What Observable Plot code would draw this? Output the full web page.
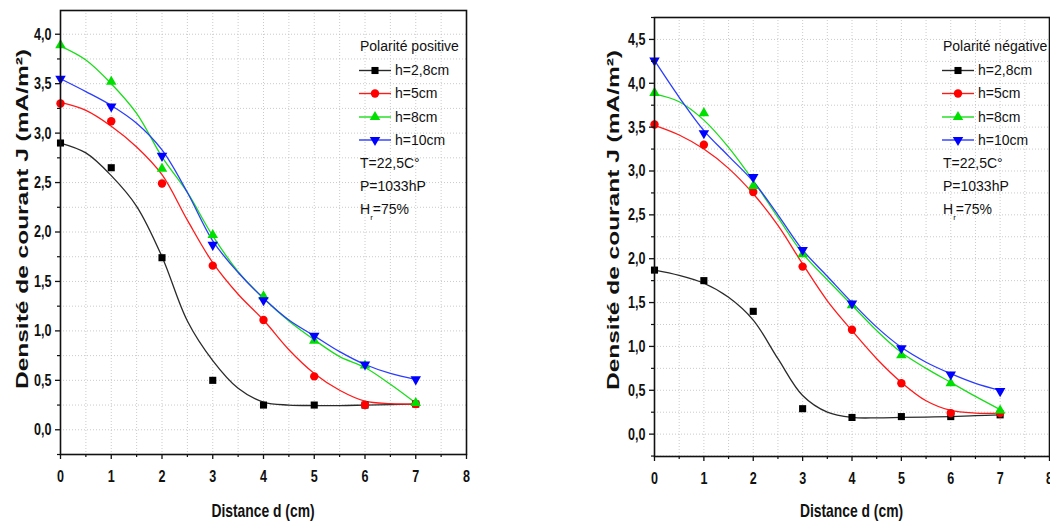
<!DOCTYPE html>
<html><head><meta charset="utf-8">
<script src="https://cdn.jsdelivr.net/npm/d3@7"></script>
<script src="https://cdn.jsdelivr.net/npm/@observablehq/plot@0.6"></script>
<style>
body{margin:0;background:#fff;}
#wrap{display:flex;width:1050px;height:523px;overflow:hidden;}
#wrap svg{flex:none;overflow:hidden;}
</style></head><body><div id="wrap"></div>
<script>
// ---------- data ----------
const distance = [0, 1, 2, 3, 4, 5, 6, 7];
const fitDistance = [0, 0.5, 1, 1.5, 2, 2.5, 3, 3.5, 4, 4.5, 5, 5.5, 6, 6.5, 7];
const seriesLabels = ["h=2,8cm", "h=5cm", "h=8cm", "h=10cm"];
const xTicks = [0, 1, 2, 3, 4, 5, 6, 7, 8];
const posYTicks = [0, 0.5, 1, 1.5, 2, 2.5, 3, 3.5, 4];
const negYTicks = [0, 0.5, 1, 1.5, 2, 2.5, 3, 3.5, 4, 4.5];
const conditions = ["T=22,5C°", "P=1033hP", "H|r|=75%"];

// Polarité positive (measured points)
const posH28 = [2.90, 2.65, 1.74, 0.50, 0.25, 0.25, 0.25, 0.26];
const posH5  = [3.30, 3.12, 2.49, 1.66, 1.11, 0.54, 0.25, 0.26];
const posH8  = [3.89, 3.52, 2.64, 1.97, 1.35, 0.90, 0.65, 0.27];
const posH10 = [3.55, 3.27, 2.77, 1.87, 1.31, 0.95, 0.66, 0.51];
// Polarité positive (fitted curves read at fitDistance)
const posFitH28 = [2.90, 2.80, 2.57, 2.26, 1.75, 1.10, 0.70, 0.42, 0.28, 0.25, 0.245, 0.245, 0.25, 0.255, 0.26];
const posFitH5  = [3.31, 3.23, 3.07, 2.86, 2.58, 2.12, 1.69, 1.37, 1.11, 0.81, 0.57, 0.40, 0.29, 0.265, 0.26];
const posFitH8  = [3.88, 3.74, 3.50, 3.20, 2.76, 2.40, 1.96, 1.60, 1.33, 1.10, 0.91, 0.74, 0.63, 0.46, 0.27];
const posFitH10 = [3.55, 3.42, 3.28, 3.10, 2.83, 2.40, 1.91, 1.59, 1.33, 1.11, 0.95, 0.79, 0.66, 0.57, 0.51];

// Polarité négative (measured points)
const negH28 = [1.87, 1.75, 1.40, 0.29, 0.19, 0.20, 0.20, 0.22];
const negH5  = [3.53, 3.30, 2.76, 1.91, 1.19, 0.58, 0.24, 0.24];
const negH8  = [3.89, 3.66, 2.83, 2.05, 1.47, 0.90, 0.58, 0.27];
const negH10 = [4.26, 3.43, 2.93, 2.10, 1.49, 0.98, 0.68, 0.49];
// Polarité négative (fitted curves)
const negFitH28 = [1.87, 1.81, 1.72, 1.56, 1.30, 0.86, 0.44, 0.25, 0.19, 0.185, 0.19, 0.195, 0.20, 0.21, 0.22];
const negFitH5  = [3.52, 3.41, 3.25, 3.03, 2.74, 2.38, 1.94, 1.52, 1.18, 0.86, 0.59, 0.38, 0.27, 0.24, 0.24];
const negFitH8  = [3.88, 3.79, 3.58, 3.27, 2.89, 2.47, 2.06, 1.76, 1.47, 1.18, 0.93, 0.75, 0.59, 0.43, 0.28];
const negFitH10 = [4.26, 3.84, 3.46, 3.17, 2.88, 2.50, 2.10, 1.80, 1.50, 1.22, 0.99, 0.82, 0.69, 0.58, 0.50];

// ---------- styles ----------
const markerColors = ["#000000", "#ff0000", "#00e000", "#0000ff"];
const lineColors = ["#2a2a2a", "#ff1a1a", "#1add1a", "#2a3cff"];
const sqrt3 = Math.sqrt(3);
const symbolTriangleDown = {
  draw(context, size) {
    const y = -Math.sqrt(size / (sqrt3 * 3));
    context.moveTo(0, -y * 2);
    context.lineTo(-sqrt3 * y, y);
    context.lineTo(sqrt3 * y, y);
    context.closePath();
  }
};
const symbols = [d3.symbolSquare, d3.symbolCircle, d3.symbolTriangle, symbolTriangleDown];
const radii = [4, 4.2, 3.9, 3.9];
const FONT = "'Liberation Sans', Arial, Helvetica, sans-serif";
const fmt = d => d.toFixed(1).replace(".", ",");

function range(a, b, step) { const out = []; for (let v = a; v <= b + 1e-9; v += step) out.push(+v.toFixed(4)); return out; }

// condense Plot's tick labels horizontally, keeping their anchor point
function squeezeTexts(svg, s) {
  const nodes = Array.from(svg.querySelectorAll("text"));
  nodes.forEach(node => {
    if (!node.textContent) return;
    const ns = "http://www.w3.org/2000/svg";
    const g = document.createElementNS(ns, "g");
    node.parentNode.insertBefore(g, node);
    g.appendChild(node);
    const b = g.getBBox();
    const anchor = getComputedStyle(node).textAnchor;
    const ax = anchor === "end" ? b.x + b.width : anchor === "start" ? b.x : b.x + b.width / 2;
    g.setAttribute("transform", `translate(${ax},0) scale(${s},1) translate(${-ax},0)`);
  });
}

function panel(cfg) {
  const {width, ml, mr, mt, mb, yDomain, yTicks, points, fits, title, yTitleDx, yTitleY} = cfg;
  const height = 523;
  const xGrid = range(0.5, 7.5, 0.5);
  const yGrid = range(-0.25, yDomain[1], 0.25).filter(v => v > yDomain[0] + 1e-6);
  const yMinor = range(-0.25, yDomain[1], 0.25).filter(v => !yTicks.includes(v) && v >= yDomain[0] - 1e-6);
  const xMinor = range(0.5, 7.5, 1);
  const gridStyle = {stroke: "#bcbcbc", strokeOpacity: 1, strokeWidth: 0.8, strokeDasharray: "1,2"};
  const marks = [
    Plot.gridX(xGrid, gridStyle),
    Plot.gridY(yGrid, gridStyle)
  ];
  fits.forEach((f, i) => marks.push(Plot.line(fitDistance.map((x, j) => ({x, y: f[j]})),
    {x: "x", y: "y", stroke: lineColors[i], strokeWidth: 1.3, curve: "catmull-rom"})));
  points.forEach((p, i) => marks.push(Plot.dot(distance.map((x, j) => ({x, y: p[j]})),
    {x: "x", y: "y", fill: markerColors[i], stroke: "none", symbol: symbols[i], r: radii[i]})));
  marks.push(
    Plot.axisX({ticks: xTicks, tickSize: 5, tickPadding: 10, tickFormat: d => String(d), fontSize: 17, fontWeight: "bold", label: null, strokeWidth: 1.3}),
    Plot.axisX({ticks: xMinor, tickSize: 3, tickFormat: () => "", label: null, strokeWidth: 1.2}),
    Plot.axisY({ticks: yTicks, tickSize: 5, tickPadding: 4, tickFormat: fmt, fontSize: 17, fontWeight: "bold", label: null, strokeWidth: 1.3}),
    Plot.axisY({ticks: yMinor, tickSize: 3, tickFormat: () => "", label: null, strokeWidth: 1.2}),
    Plot.frame({stroke: "#111", strokeWidth: 1.6})
  );
  const svg = Plot.plot({
    width, height, marginLeft: ml, marginRight: mr, marginTop: mt, marginBottom: mb,
    x: {domain: [0, 8]}, y: {domain: yDomain},
    style: {fontFamily: FONT, background: "transparent", color: "#111"},
    marks
  });
  document.getElementById("wrap").appendChild(svg);
  squeezeTexts(svg, 0.74);
  const g = d3.select(svg).append("g").attr("font-family", FONT).attr("fill", "#111").attr("text-anchor", "start");
  // axis titles
  const cx = ml + (width - ml - mr) / 2;
  g.append("text").attr("text-anchor", "middle").attr("font-weight", "bold").attr("font-size", 19)
    .attr("transform", `translate(${cx},517) scale(0.73,1)`).text("Distance d (cm)");
  g.append("text").attr("text-anchor", "middle").attr("font-weight", "bold").attr("font-size", 24.5)
    .attr("dy", "0.35em")
    .attr("transform", `translate(${ml + yTitleDx},${yTitleY}) scale(0.69,1) rotate(-90)`)
    .text("Densité de courant J (mA/m²)");
  // legend
  const fr = width - mr;
  const lx0 = fr - 107, lx1 = fr - 75, tx = fr - 71;
  const ys = [70.5, 93.5, 117, 140];
  g.append("text").attr("x", lx0 + 1).attr("y", 46).attr("dy", "0.35em").attr("font-size", 14).text(title);
  seriesLabels.forEach((lab, i) => {
    g.append("line").attr("x1", lx0).attr("x2", lx1).attr("y1", ys[i]).attr("y2", ys[i])
      .attr("stroke", lineColors[i]).attr("stroke-width", 1.4);
    g.append("path").attr("transform", `translate(${(lx0 + lx1) / 2},${ys[i]})`)
      .attr("d", d3.symbol().type(symbols[i]).size(Math.PI * radii[i] * radii[i])())
      .attr("fill", markerColors[i]);
    g.append("text").attr("x", tx).attr("y", ys[i]).attr("dy", "0.35em").attr("font-size", 14).text(lab);
  });
  const cy = [163.5, 186.5, 209.5];
  conditions.forEach((c, k) => {
    const t = g.append("text").attr("x", lx0 + 1).attr("y", cy[k]).attr("dy", "0.35em").attr("font-size", 14);
    const parts = c.split("|");
    if (parts.length === 3) {
      t.append("tspan").text(parts[0]);
      t.append("tspan").attr("font-size", 8).attr("dy", "0.75em").text(parts[1]);
      t.append("tspan").attr("dy", "-0.45em").text(parts[2]);
    } else t.text(c);
  });
  return svg;
}

panel({
  width: 530, ml: 60, mr: 64, mt: 10, mb: 69, yDomain: [-0.25, 4.24], yTicks: posYTicks,
  points: [posH28, posH5, posH8, posH10], fits: [posFitH28, posFitH5, posFitH8, posFitH10],
  title: "Polarité positive", yTitleDx: -38, yTitleY: 219
});
panel({
  width: 520, ml: 124, mr: 1, mt: 17, mb: 67, yDomain: [-0.255, 4.75], yTicks: negYTicks,
  points: [negH28, negH5, negH8, negH10], fits: [negFitH28, negFitH5, negFitH8, negFitH10],
  title: "Polarité négative", yTitleDx: -41, yTitleY: 220
});
</script></body></html>
